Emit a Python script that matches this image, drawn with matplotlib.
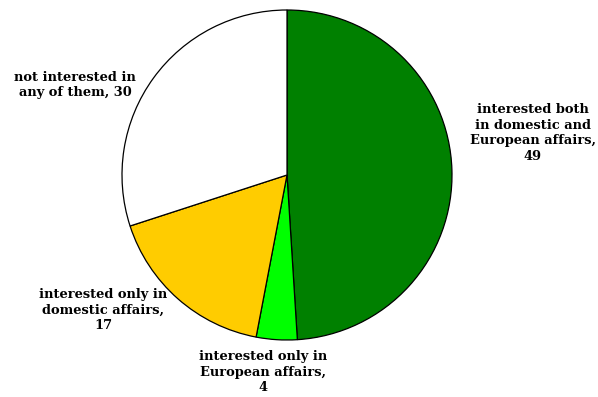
import matplotlib
matplotlib.use("Agg")
import matplotlib.pyplot as plt

# Interest in domestic / European affairs
labels = [
    "interested both\nin domestic and\nEuropean affairs,\n49",
    "interested only in\nEuropean affairs,\n4",
    "interested only in\ndomestic affairs,\n17",
    "not interested in\nany of them, 30",
]
values = [49, 4, 17, 30]
colors = ["#008000", "#00FF00", "#FFCC00", "#FFFFFF"]

# label centres, in units of the pie radius
label_pos = [(1.49, 0.255), (-0.145, -1.194), (-1.115, -0.818), (-1.285, 0.545)]

W, H = 598, 397
fig = plt.figure(figsize=(W / 100, H / 100), dpi=100)
cx, cy, r = 287, 175, 165
ax = fig.add_axes([(cx - r) / W, (H - cy - r) / H, 2 * r / W, 2 * r / H])

ax.pie(values, colors=colors, startangle=90, counterclock=False,
       radius=1, wedgeprops=dict(edgecolor="black", linewidth=0.9))
ax.set_xlim(-1, 1)
ax.set_ylim(-1, 1)
ax.set_aspect("auto")
ax.axis("off")

for text, (x, y) in zip(labels, label_pos):
    ax.text(x, y, text, ha="center", va="center", fontsize=9.4,
            family="DejaVu Serif", fontweight="bold", linespacing=1.28,
            clip_on=False)

fig.savefig("out.png", dpi=100)
